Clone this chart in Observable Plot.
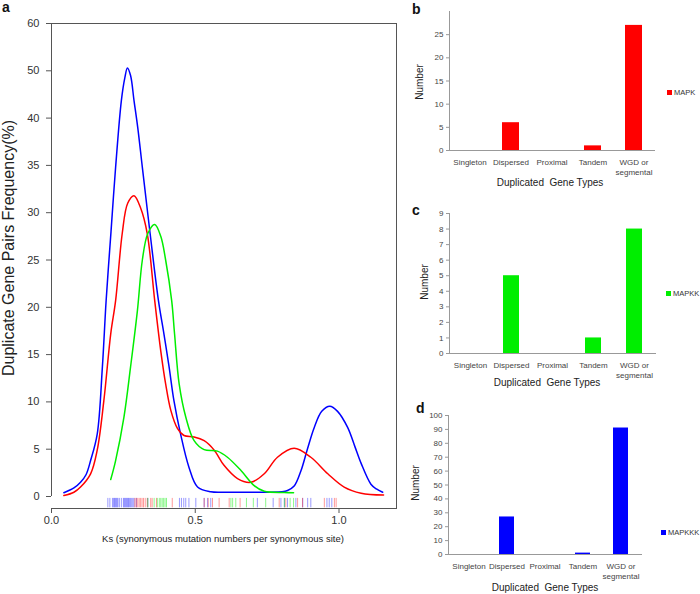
<!DOCTYPE html>
<html><head><meta charset="utf-8">
<script src="https://cdn.jsdelivr.net/npm/d3@7"></script>
<script src="https://cdn.jsdelivr.net/npm/@observablehq/plot@0.6"></script>
<style>
body{margin:0;width:700px;height:594px;position:relative;overflow:hidden;background:#fff;font-family:"Liberation Sans",Arial,sans-serif;color:#222;}
.abs{position:absolute;white-space:nowrap;line-height:1;}
.c{transform:translate(-50%,-50%);}
.r{transform:translate(-50%,-50%) rotate(-90deg);}
.panel{position:absolute;}
.tag{position:absolute;font-weight:bold;font-size:14px;color:#111;line-height:1;}
.sw{position:absolute;width:5px;height:5px;}
</style></head><body>
<div id="pa" class="panel" style="left:0;top:0"></div>
<div id="pb" class="panel" style="left:400px;top:0"></div>
<div id="pc" class="panel" style="left:400px;top:195px"></div>
<div id="pd" class="panel" style="left:400px;top:390px"></div>
<script>
// ---------- data ----------
const seriesNames = ["MAPK", "MAPKK", "MAPKKK"];
const seriesColors = ["#ff0000", "#00ee00", "#0000ff"];
const xTicks = [0, 0.5, 1.0];
const yTicks = [0, 5, 10, 15, 20, 25, 30, 35, 40, 50, 60];
const yBreak = 40;
const xTitleA = "Ks (synonymous mutation numbers per synonymous site)";
const yTitleA = "Duplicate Gene Pairs Frequency(%)";

// density curves [Ks, frequency %]
const mapkCurve = [[0.043,0.1],[0.078,0.45],[0.101,1.0],[0.136,2.4],[0.159,4.9],[0.182,10.1],[0.206,17.2],[0.223,20.7],[0.246,27.8],[0.265,31.0],[0.287,31.8],[0.31,30.5],[0.333,27.8],[0.359,20.7],[0.38,15.4],[0.397,11.9],[0.415,9.1],[0.438,7.2],[0.461,6.45],[0.496,6.3],[0.531,5.9],[0.566,4.9],[0.6,3.3],[0.647,1.9],[0.693,1.5],[0.74,2.4],[0.786,4.15],[0.844,5.1],[0.902,4.15],[0.961,2.4],[1.018,1.0],[1.077,0.35],[1.155,0.15]];
const mapkkCurve = [[0.206,1.8],[0.223,3.8],[0.252,8.4],[0.275,13.7],[0.299,19.7],[0.316,25.0],[0.335,27.8],[0.359,28.75],[0.38,27.5],[0.397,25.0],[0.418,20.7],[0.428,17.2],[0.444,11.9],[0.467,8.4],[0.496,5.9],[0.531,4.95],[0.577,4.8],[0.612,4.15],[0.659,2.75],[0.705,1.15],[0.74,0.55],[0.809,0.42],[0.842,0.4]];
const mapkkkCurve = [[0.043,0.4],[0.078,0.9],[0.101,1.5],[0.12,2.3],[0.136,3.8],[0.159,6.6],[0.177,13.7],[0.19,20.7],[0.207,28.0],[0.223,34.8],[0.243,43.7],[0.255,48.5],[0.264,50.6],[0.275,49.0],[0.287,43.7],[0.30,39.0],[0.316,34.8],[0.343,27.8],[0.372,20.7],[0.391,17.2],[0.409,13.7],[0.426,10.1],[0.449,6.6],[0.478,3.1],[0.508,1.0],[0.554,0.5],[0.6,0.45],[0.7,0.45],[0.8,0.5],[0.821,0.63],[0.844,1.1],[0.868,2.75],[0.89,5.0],[0.914,7.3],[0.94,9.0],[0.968,9.55],[0.995,9.0],[1.03,7.3],[1.055,5.3],[1.077,3.5],[1.111,1.3],[1.13,0.8],[1.152,0.45]];

// rug (Ks of individual gene pairs)
const mapkRug = [0.29,0.295,0.30,0.305,0.31,0.315,0.32,0.326,0.333,0.345,0.35,0.365,0.42,0.531,0.545,0.56,0.583,0.618,0.656,0.792,0.815,0.856,0.873,0.949,0.984,0.99];
const mapkkRug = [0.335,0.357,0.368,0.375,0.38,0.385,0.39,0.395,0.40,0.624,0.63,0.641,0.678,0.702,0.745,0.81,0.83,0.842];
const mapkkkRug = [0.196,0.203,0.212,0.216,0.219,0.222,0.225,0.228,0.231,0.236,0.243,0.25,0.253,0.256,0.259,0.262,0.265,0.268,0.271,0.275,0.279,0.283,0.287,0.295,0.335,0.445,0.452,0.46,0.467,0.478,0.502,0.531,0.543,0.554,0.716,0.771,0.798,0.81,0.821,0.85,0.874,0.891,0.902,0.958,0.966,0.975];
const rugSpan = [-0.2, -1.2];

// bar charts
const categories = ["Singleton", "Dispersed", "Proximal", "Tandem", "WGD or\nsegmental"];
const mapkCounts = [0, 6, 0, 1, 27];
const mapkkCounts = [0, 5, 0, 1, 8];
const mapkkkCounts = [0, 27, 0, 1, 91];
const ticksB = [0, 5, 10, 15, 20, 25];
const ticksC = [0, 1, 2, 3, 4, 5, 6, 7, 8, 9];
const ticksD = [0, 10, 20, 30, 40, 50, 60, 70, 80, 90, 100];
const yMaxB = 30, yMaxC = 9, yMaxD = 100;
const barYTitle = "Number";
const barXTitle = "Duplicated\u00a0 Gene Types";

// ---------- helpers ----------
function addText(txt, cls, left, top, size, extra) {
  const d = document.createElement("div");
  d.className = "abs " + cls;
  d.textContent = txt;
  d.style.left = left + "px"; d.style.top = top + "px"; d.style.fontSize = size + "px";
  if (extra) Object.assign(d.style, extra);
  document.body.appendChild(d);
}
function addTag(txt, left, top) {
  const d = document.createElement("div");
  d.className = "tag"; d.textContent = txt;
  d.style.left = left + "px"; d.style.top = top + "px";
  document.body.appendChild(d);
}
function addLegend(name, color, left, top) {
  const s = document.createElement("div");
  s.className = "sw"; s.style.left = left + "px"; s.style.top = top + "px"; s.style.background = color;
  document.body.appendChild(s);
  addText(name, "", left + 7, top - 1, 7.5, {color: "#333"});
}

// ---------- panel a ----------
const WA = 400, HA = 560, mTA = 23, mBA = 52, mLA = 51, mRA = 4;
const y0px = HA - mBA - 12;
const stepPx = (y0px - mTA) / (yTicks.length - 1);
const yRangeA = [y0px, y0px - yTicks.indexOf(yBreak) * stepPx, mTA];
const axisCol = "#555";

const plotA = Plot.plot({
  width: WA, height: HA, marginTop: mTA, marginBottom: mBA, marginLeft: mLA, marginRight: mRA,
  style: {fontFamily: '"Liberation Sans", Arial, sans-serif', color: "#333", background: "transparent"},
  x: {domain: [0, 1.2]},
  y: {type: "linear", domain: [yTicks[0], yBreak, yTicks[yTicks.length - 1]], range: yRangeA},
  marks: [
    Plot.frame({anchor: "top", stroke: axisCol}),
    Plot.frame({anchor: "right", stroke: axisCol}),
    Plot.frame({anchor: "bottom", stroke: axisCol}),
    Plot.ruleX([xTicks[0]], {y1: yTicks[0], y2: yTicks[yTicks.length - 1], stroke: axisCol}),
    Plot.axisY({ticks: yTicks, tickSize: 5, tickPadding: 7, fontSize: 11, label: null, stroke: axisCol}),
    Plot.axisX({ticks: xTicks, tickFormat: d3.format(".1f"), tickSize: 5, tickPadding: 3, fontSize: 11, label: null, stroke: axisCol}),
    Plot.ruleX(mapkkkRug, {x: d => d, y1: rugSpan[0], y2: rugSpan[1], stroke: seriesColors[2], strokeOpacity: 0.4}),
    Plot.ruleX(mapkRug, {x: d => d, y1: rugSpan[0], y2: rugSpan[1], stroke: seriesColors[0], strokeOpacity: 0.4}),
    Plot.ruleX(mapkkRug, {x: d => d, y1: rugSpan[0], y2: rugSpan[1], stroke: seriesColors[1], strokeOpacity: 0.45}),
    Plot.line(mapkkkCurve, {x: d => d[0], y: d => d[1], stroke: seriesColors[2], strokeWidth: 1.5, curve: "catmull-rom"}),
    Plot.line(mapkCurve, {x: d => d[0], y: d => d[1], stroke: seriesColors[0], strokeWidth: 1.5, curve: "catmull-rom"}),
    Plot.line(mapkkCurve, {x: d => d[0], y: d => d[1], stroke: seriesColors[1], strokeWidth: 1.5, curve: "catmull-rom"})
  ]
});
document.getElementById("pa").appendChild(plotA);
addTag("a", 2, 0);
addText(yTitleA, "r", 9, 248, 16, {color: "#222"});
addText(xTitleA, "c", 223, 539, 9.5, {color: "#222"});

// ---------- bar panels ----------
function barPanel(values, color, ticks, yMax, h, mT, mB, mL, mR, pad) {
  const data = categories.map((c, i) => ({c, v: values[i]}));
  return Plot.plot({
    width: 300, height: h, marginTop: mT, marginBottom: mB, marginLeft: mL, marginRight: mR,
    style: {fontFamily: '"Liberation Sans", Arial, sans-serif', color: "#444", background: "transparent"},
    x: {domain: categories, paddingInner: pad, paddingOuter: pad / 2},
    y: {domain: [0, yMax]},
    marks: [
      Plot.barY(data, {x: "c", y: "v", fill: color}),
      Plot.frame({anchor: "left", stroke: "#999"}),
      Plot.frame({anchor: "bottom", stroke: "#999"}),
      Plot.axisY({ticks, tickSize: 3, tickPadding: 3, fontSize: 8, label: null, stroke: "#999"}),
      Plot.axisX({tickSize: 0, tickPadding: 7, fontSize: 8, label: null, lineHeight: 1.3})
    ]
  });
}
document.getElementById("pb").appendChild(barPanel(mapkCounts, seriesColors[0], ticksB, yMaxB, 195, 11, 45, 49, 46, 0.59));
document.getElementById("pc").appendChild(barPanel(mapkkCounts, seriesColors[1], ticksC, yMaxC, 195, 18, 37, 49, 45, 0.6));
document.getElementById("pd").appendChild(barPanel(mapkkkCounts, seriesColors[2], ticksD, yMaxD, 204, 25, 40, 48, 59, 0.61));

addTag("b", 412, 2);
addTag("c", 412, 203);
addTag("d", 416, 401);
addText(barYTitle, "r", 420, 82, 10);
addText(barYTitle, "r", 425, 282, 10);
addText(barYTitle, "r", 416, 483, 10);
addText(barXTitle, "c", 550, 183, 10);
addText(barXTitle, "c", 547, 383, 10);
addText(barXTitle, "c", 545, 588, 10);
addLegend(seriesNames[0], seriesColors[0], 667, 90);
addLegend(seriesNames[1], seriesColors[1], 666, 291);
addLegend(seriesNames[2], seriesColors[2], 661, 530);
</script>
</body></html>
